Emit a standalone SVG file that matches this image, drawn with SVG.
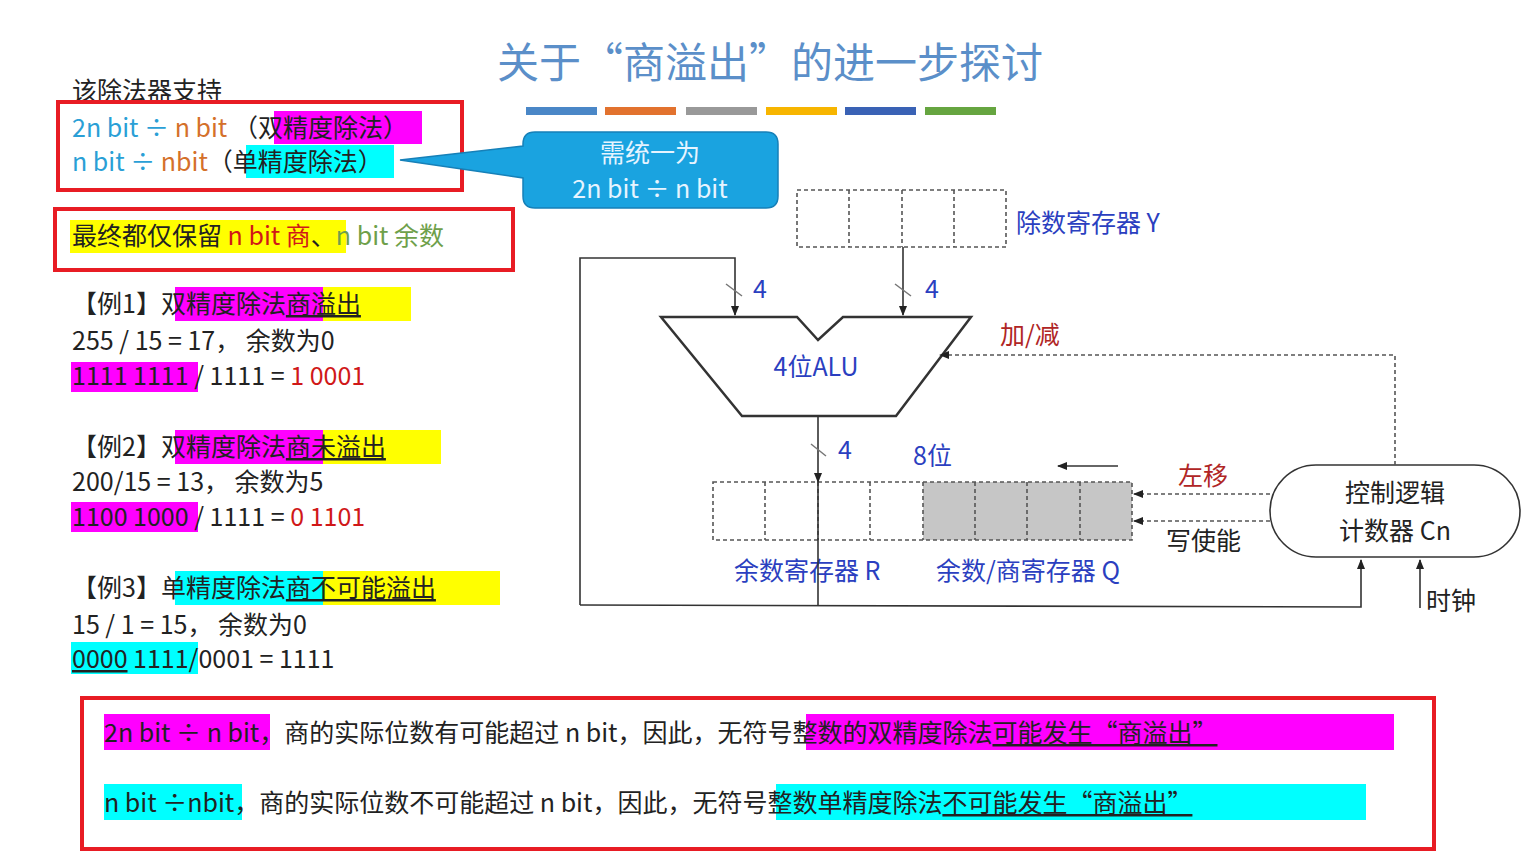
<svg xmlns="http://www.w3.org/2000/svg" width="1540" height="861" viewBox="0 0 1540 861">
<style>
text{font-family:"Noto Sans CJK SC","Noto Sans",sans-serif;}
.t{font-size:25px;fill:#222;}
.b{font-size:25px;fill:#2b3fc0;}
.ln{stroke:#333;stroke-width:1.6;fill:none;}
.dl{stroke:#555;stroke-width:1.6;fill:none;stroke-dasharray:4 3;}
.red{fill:none;stroke:#e81c24;stroke-width:4;}
.mag{fill:#f0f;}.cy{fill:#0ff;}.ye{fill:#ff0;}
</style>
<defs><marker id="a" markerWidth="10" markerHeight="10" refX="9" refY="5" orient="auto" markerUnits="userSpaceOnUse"><path d="M0,1 L10,5 L0,9 z" fill="#222"/></marker></defs>
<rect width="1540" height="861" fill="#fff"/>
<g id="title">
<text x="770" y="78" text-anchor="middle" font-size="42" fill="#5b8fc9">关于“商溢出”的进一步探讨</text>
<rect x="526" y="107" width="71" height="8" fill="#4a87c7"/><rect x="605" y="107" width="71" height="8" fill="#e2722e"/><rect x="686" y="107" width="71" height="8" fill="#999"/><rect x="766" y="107" width="71" height="8" fill="#f7b500"/><rect x="845" y="107" width="71" height="8" fill="#3a62b5"/><rect x="925" y="107" width="71" height="8" fill="#66a540"/>
</g>
<g id="support">
<text x="72" y="100" class="t">该除法器支持</text>
<rect x="58" y="102" width="404" height="88" class="red"/>
<rect x="274" y="111" width="148" height="33" class="mag"/>
<text x="72" y="137" font-size="25"><tspan fill="#2a9fd6">2n bit ÷ </tspan><tspan fill="#d4702a">n bit </tspan><tspan fill="#222">（双精度除法）</tspan></text>
<rect x="246" y="145" width="148" height="33" class="cy"/>
<text x="72" y="171" font-size="25"><tspan fill="#2a9fd6">n bit ÷ </tspan><tspan fill="#d4702a">nbit</tspan><tspan fill="#222">（单精度除法）</tspan></text>
</g>
<g id="callout">
<path d="M535,132 H766 Q778,132 778,144 V196 Q778,208 766,208 H535 Q523,208 523,196 V178 L400,160 L523,146 V144 Q523,132 535,132 z" fill="#1aa3e0" stroke="#1680b8" stroke-width="1.5"/>
<text x="650" y="162" text-anchor="middle" font-size="25" fill="#e6f4ff">需统一为</text>
<text x="650" y="198" text-anchor="middle" font-size="25" fill="#e6f4ff">2n bit ÷ n bit</text>
</g>
<g id="keep">
<rect x="55" y="209" width="458" height="61" class="red"/>
<rect x="70" y="220" width="276" height="33" class="ye"/>
<text x="72" y="245" font-size="25"><tspan fill="#222">最终都仅保留 </tspan><tspan fill="#d01818">n bit 商</tspan><tspan fill="#222">、</tspan><tspan fill="#6ea04a">n bit 余数</tspan></text>
</g>
<g id="ex1">
<rect x="175" y="287" width="148" height="34" class="mag"/><rect x="323" y="287" width="88" height="34" class="ye"/>
<text x="72" y="313" class="t">【例1】双精度除法<tspan text-decoration="underline">商溢出</tspan></text>
<text x="72" y="350" class="t">255 / 15 = 17， 余数为0</text>
<rect x="71" y="362" width="127" height="30" class="mag"/>
<text x="72" y="385" class="t">1111 1111 / 1111 = <tspan fill="#d01818">1 0001</tspan></text>
</g>
<g id="ex2">
<rect x="175" y="430" width="148" height="34" class="mag"/><rect x="323" y="430" width="118" height="34" class="ye"/>
<text x="72" y="456" class="t">【例2】双精度除法<tspan text-decoration="underline">商未溢出</tspan></text>
<text x="72" y="491" class="t">200/15 = 13， 余数为5</text>
<rect x="71" y="502" width="127" height="30" class="mag"/>
<text x="72" y="526" class="t">1100 1000 / 1111 = <tspan fill="#d01818">0 1101</tspan></text>
</g>
<g id="ex3">
<rect x="175" y="571" width="148" height="34" class="cy"/><rect x="323" y="571" width="177" height="34" class="ye"/>
<text x="72" y="597" class="t">【例3】单精度除法<tspan text-decoration="underline">商不可能溢出</tspan></text>
<text x="72" y="634" class="t">15 / 1 = 15， 余数为0</text>
<rect x="71" y="642" width="127" height="32" class="cy"/>
<text x="72" y="668" class="t"><tspan text-decoration="underline">0000</tspan> 1111/0001 = 1111</text>
</g>
<g id="summary">
<rect x="82" y="698" width="1352" height="151" class="red"/>
<rect x="104" y="714" width="166" height="36" class="mag"/><rect x="806" y="714" width="588" height="36" class="mag"/>
<text x="104" y="742" class="t">2n bit ÷ n bit，商的实际位数有可能超过 n bit，因此，无符号整数的双精度除法<tspan text-decoration="underline">可能发生“商溢出”</tspan></text>
<rect x="104" y="784" width="138" height="36" class="cy"/><rect x="776" y="784" width="590" height="36" class="cy"/>
<text x="104" y="812" class="t">n bit ÷nbit，商的实际位数不可能超过 n bit，因此，无符号整数单精度除法<tspan text-decoration="underline">不可能发生“商溢出”</tspan></text>
</g>
<g id="regY">
<rect x="797" y="190" width="209" height="57" class="dl"/>
<path d="M849,190V247M902,190V247M954,190V247" class="dl"/>
<text x="1016" y="232" class="b">除数寄存器 Y</text>
</g>
<g id="alu">
<path d="M661,317 H797 L818,340 L843,317 H971 L896,416 H742 z" fill="#fff" stroke="#333" stroke-width="2.5"/>
<text x="816" y="376" text-anchor="middle" class="b">4位ALU</text>
</g>
<g id="regRQ">
<rect x="923" y="482" width="209" height="58" fill="#c6c6c6"/>
<rect x="713" y="482" width="419" height="58" class="dl"/>
<path d="M765,482V540M818,482V540M870,482V540M923,482V540M975,482V540M1027,482V540M1080,482V540" class="dl"/>
<text x="913" y="465" class="b">8位</text>
<text x="734" y="580" class="b">余数寄存器 R</text>
<text x="936" y="580" class="b">余数/商寄存器 Q</text>
</g>
<g id="ctrl">
<rect x="1270" y="465" width="250" height="92" rx="46" fill="#fff" stroke="#333" stroke-width="1.6"/>
<text x="1395" y="502" text-anchor="middle" class="t">控制逻辑</text>
<text x="1395" y="540" text-anchor="middle" class="t">计数器 Cn</text>
</g>
<g id="connectors">
<path d="M903,247V315" class="ln" marker-end="url(#a)"/>
<path d="M580,605V258H735V315" class="ln" marker-end="url(#a)"/>
<path d="M818,416V482" class="ln" marker-end="url(#a)"/>
<path d="M818,482V606" class="ln"/>
<path d="M580,605L1361,607V560" class="ln" marker-end="url(#a)"/>
<path d="M1420,608V560" class="ln" marker-end="url(#a)"/>
<path d="M1118,466H1058" class="ln" marker-end="url(#a)"/>
<path d="M726,284L742,296M895,284L911,296M811,444L826,456" stroke="#777" stroke-width="1.5"/>
<path d="M1395,465V355H940" class="dl" marker-end="url(#a)"/>
<path d="M1270,494H1134" class="dl" marker-end="url(#a)"/>
<path d="M1270,521H1134" class="dl" marker-end="url(#a)"/>
<text x="753" y="298" class="b">4</text><text x="925" y="298" class="b">4</text><text x="838" y="459" class="b">4</text>
<text x="1000" y="344" font-size="25" fill="#b02525">加/减</text>
<text x="1178" y="485" font-size="25" fill="#b02525">左移</text>
<text x="1166" y="550" class="t">写使能</text>
<text x="1426" y="610" class="t">时钟</text>
</g>
</svg>
